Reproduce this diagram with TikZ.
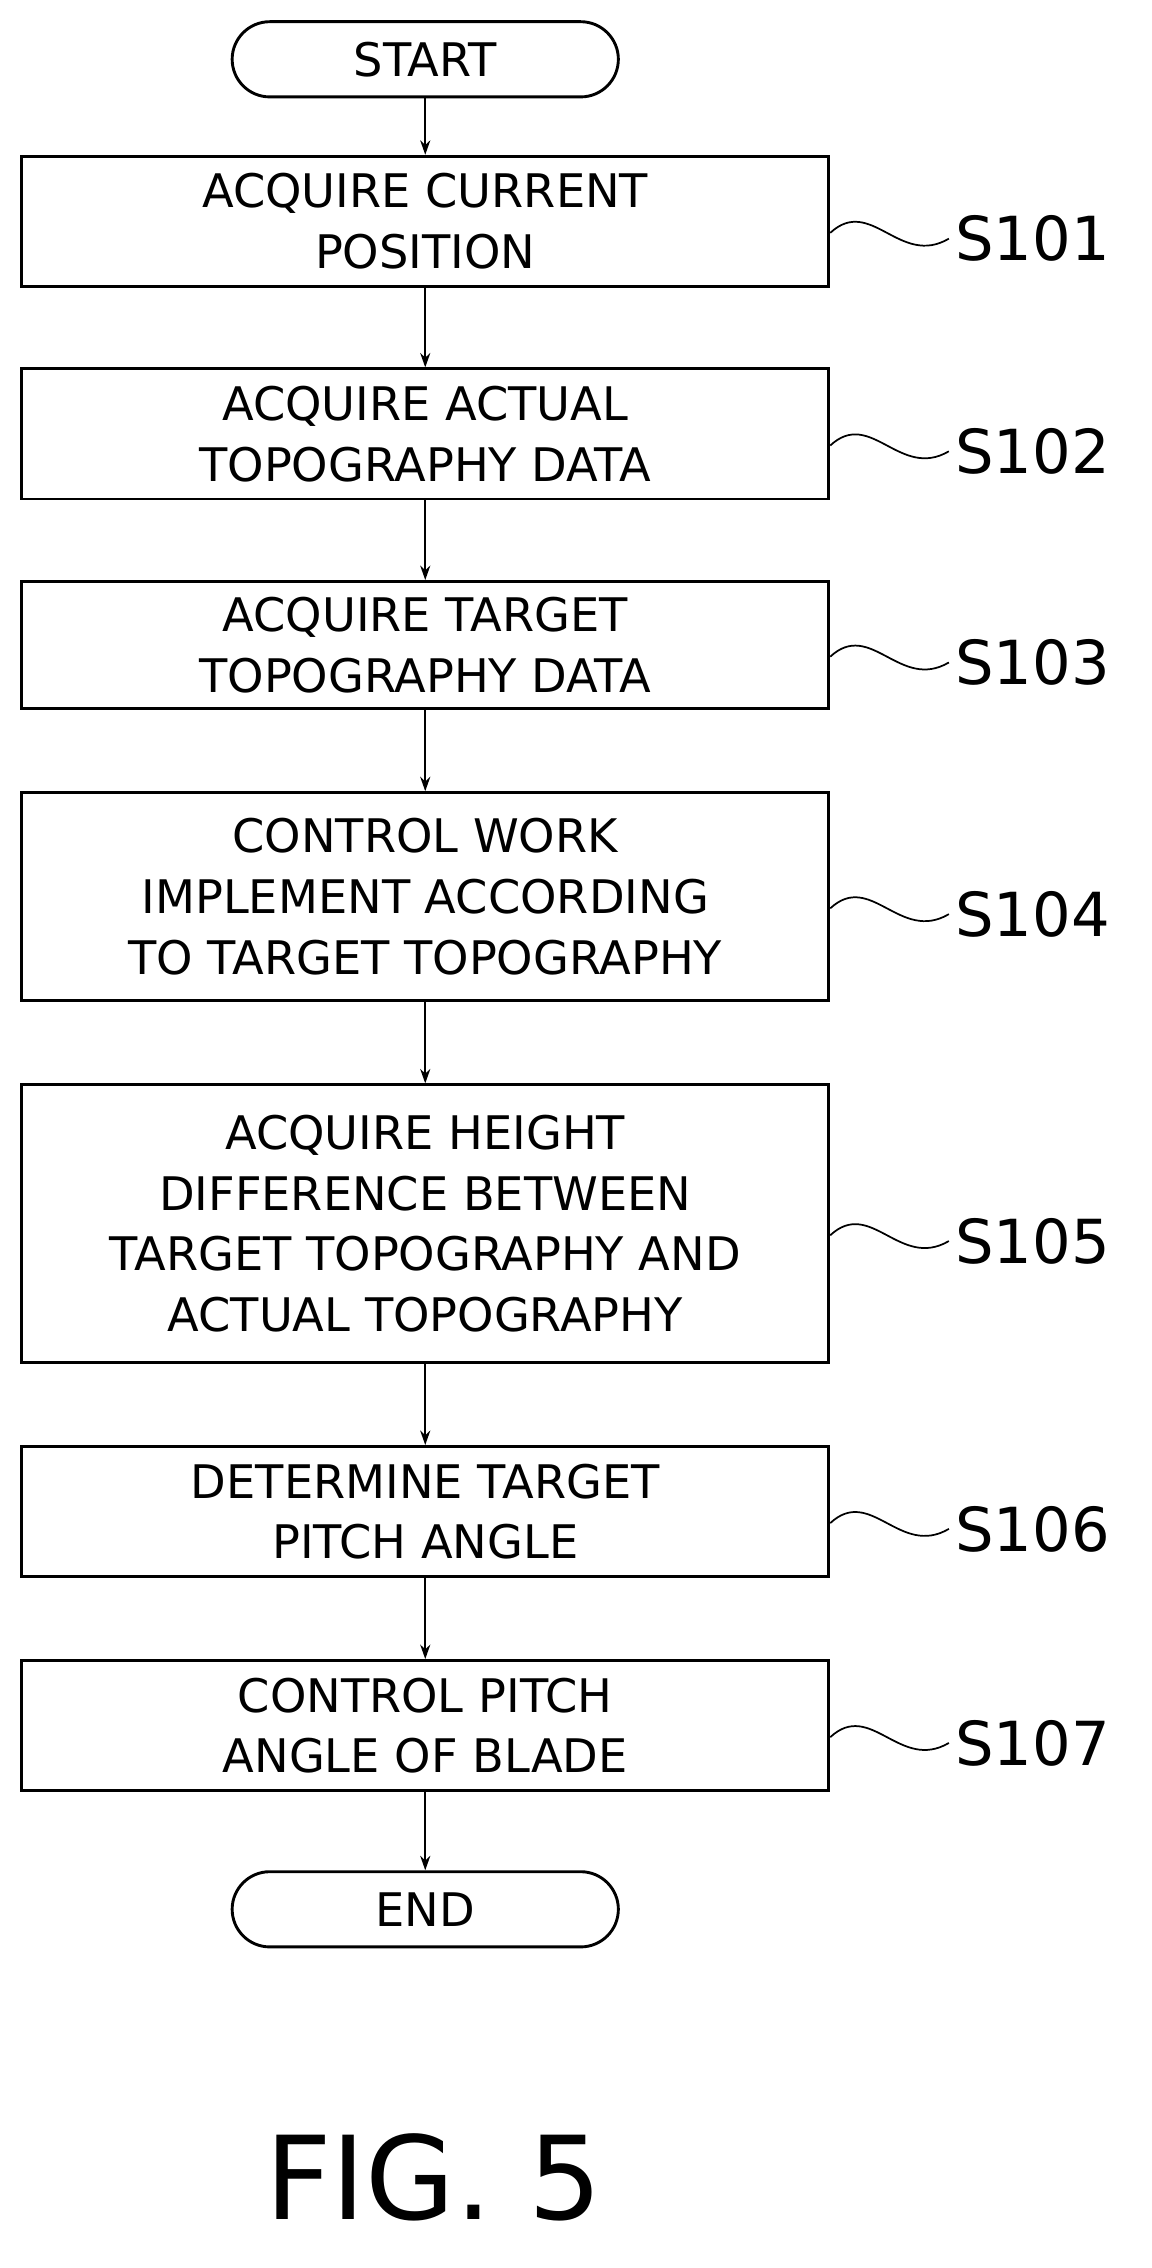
\documentclass[tikz,border=0pt]{standalone}
\usepackage{fontspec}
\setmainfont{DejaVu Sans}
\usetikzlibrary{arrows.meta}
\begin{document}
\begin{tikzpicture}[x=0.5pt,y=-0.5pt,
 stepbox/.style={draw,line width=1pt,minimum width=279pt,align=center,font=\fontsize{16}{21}\selectfont,inner sep=0pt},
 term/.style={draw,line width=1pt,rounded corners=13pt,minimum width=133.5pt,minimum height=26pt,font=\fontsize{16}{20}\selectfont,inner sep=0pt},
 lbl/.style={font=\fontsize{21}{24}\selectfont,anchor=west,inner sep=0pt},
 arr/.style={-{Stealth[length=5pt,width=3.5pt]},line width=0.6pt},
 tld/.style={line width=0.6pt}]
\useasboundingbox (0,0) rectangle (796,1568);
\node[term] (start) at (294,41) {START};
\node[stepbox,minimum height=45pt] (s1) at (294,153) {ACQUIRE CURRENT\\POSITION};
\node[stepbox,minimum height=45pt] (s2) at (294,300) {ACQUIRE ACTUAL\\TOPOGRAPHY DATA};
\node[stepbox,minimum height=44pt] (s3) at (294,446) {ACQUIRE TARGET\\TOPOGRAPHY DATA};
\node[stepbox,minimum height=72pt] (s4) at (294,620) {CONTROL WORK\\IMPLEMENT ACCORDING\\TO TARGET TOPOGRAPHY};
\node[stepbox,minimum height=96pt] (s5) at (294,846) {ACQUIRE HEIGHT\\DIFFERENCE BETWEEN\\TARGET TOPOGRAPHY AND\\ACTUAL TOPOGRAPHY};
\node[stepbox,minimum height=45pt] (s6) at (294,1045) {DETERMINE TARGET\\PITCH ANGLE};
\node[stepbox,minimum height=45pt] (s7) at (294,1193) {CONTROL PITCH\\ANGLE OF BLADE};
\node[term] (end) at (294,1320) {END};
\foreach \a/\b in {start/s1,s1/s2,s2/s3,s3/s4,s4/s5,s5/s6,s6/s7,s7/end}
 \draw[arr] (\a) -- (\b);
\foreach \n/\t in {s1/S101,s2/S102,s3/S103,s4/S104,s5/S105,s6/S106,s7/S107}{
 \node[lbl] (l\n) at ([xshift=43pt,yshift=-6pt] \n.east) {\t};
 \draw[tld] ([yshift=-4pt]\n.east) .. controls ([xshift=14pt,yshift=9pt]\n.east) and ([xshift=24pt,yshift=-16pt]\n.east) .. ([xshift=-2pt]l\n.west);
}
\node[font=\fontsize{40}{46}\selectfont] (fig) at (300,1505) {FIG. 5};
\end{tikzpicture}
\end{document}
